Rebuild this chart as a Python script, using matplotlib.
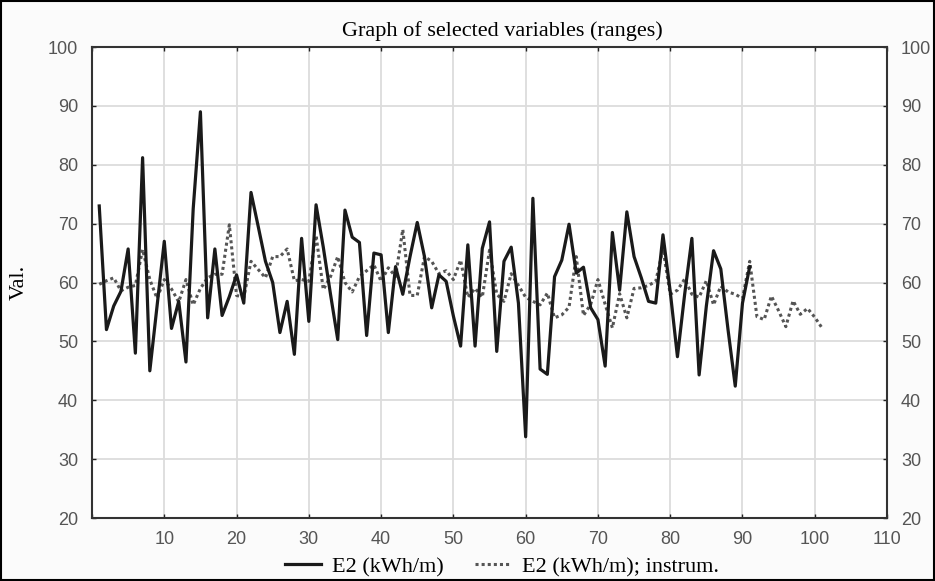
import matplotlib
matplotlib.use("Agg")
import matplotlib.pyplot as plt
from matplotlib.patches import Rectangle

# E2 measured (solid), x = 1..91
e2 = [73, 52, 56, 58.5, 65.7, 48, 81.2, 45, 56, 67,
      52.2, 56.8, 46.5, 72.5, 89, 54, 65.7, 54.4, 57.6, 61.3,
      56.5, 75.3, 69.5, 63.6, 60, 51.5, 56.8, 47.8, 67.5, 53.4,
      73.2, 66, 58, 50.3, 72.3, 67.7, 66.8, 51, 65, 64.7,
      51.5, 62.7, 58, 64.4, 70.2, 64.4, 55.7, 61.3, 60.2, 54.3,
      49.2, 66.4, 49.2, 65.8, 70.3, 48.3, 63.6, 66, 56.5, 33.8,
      74.3, 45.3, 44.4, 61, 63.8, 69.9, 61.6, 62.6, 55.7, 53.7,
      45.8, 68.5, 58.7, 72, 64.4, 60.8, 56.8, 56.5, 68.1, 58.5,
      47.4, 58, 67.5, 44.3, 56, 65.4, 62.3, 52, 42.4, 56.5,
      62.7]

# E2 instrumented (dotted), x = 1..101
e2_instr = [59.7, 60.3, 60.8, 58.6, 59.2, 59.5, 65.6, 60.5, 57.3, 60.5,
            58.9, 56.7, 60.5, 56.2, 59, 60.8, 61.4, 61.4, 69.8, 57.8,
            57.5, 63.6, 62.2, 60.8, 64.4, 64.4, 65.7, 60.3, 60.5, 60.2,
            68, 58.8, 61, 64.4, 60, 58.4, 61, 62, 63, 60.2,
            62.5, 61, 69, 57.8, 57.8, 64.4, 63.6, 61.5, 62, 60.5,
            63.8, 57.5, 59, 57.5, 65.5, 58, 56.8, 61.5, 59.5, 57.5,
            56.8, 56.2, 58.2, 54, 54.5, 55.8, 64.4, 54.4, 56.3, 60.5,
            56.3, 52.3, 58.1, 54, 59, 59.1, 59.5, 60.2, 65.7, 58,
            58.7, 60.6, 58, 57.5, 60.3, 56.2, 59.4, 58.4, 58, 57.3,
            63.6, 54.2, 53.7, 57.7, 55.2, 52.5, 56.9, 54.6, 55.6, 54.1,
            52.3]

x_e2 = list(range(1, len(e2) + 1))
x_instr = list(range(1, len(e2_instr) + 1))

x_ticks = list(range(0, 111, 10))
y_ticks = list(range(20, 101, 10))

serif = ["Liberation Serif", "DejaVu Serif"]
sans = ["Liberation Sans", "DejaVu Sans"]

fig = plt.figure(figsize=(9.35, 5.81), dpi=100)
fig.patch.set_facecolor("#fbfbfb")
ax = fig.add_axes([0.0984, 0.1084, 0.8503, 0.8107])
ax.set_facecolor("white")

ax.plot(x_instr, e2_instr, color="#555555", linestyle=(0, (1, 1.0)),
        linewidth=2.2, label="E2 (kWh/m); instrum.", zorder=3)
ax.plot(x_e2, e2, color="#1a1a1a", linewidth=2.3, label="E2 (kWh/m)", zorder=4)

ax.set_xlim(0, 110)
ax.set_ylim(20, 100)
ax.set_xticks(x_ticks)
ax.set_yticks(y_ticks)
ax.grid(True, color="#dcdcdc", linewidth=1.3)
ax.set_axisbelow(True)

ax.tick_params(axis="both", direction="in", length=3, width=1, colors="#222222",
               labelcolor="#555555", labelsize=13, top=True, right=True,
               labelright=True)
ax.tick_params(axis="y", pad=10)
ax.tick_params(axis="x", pad=9)
for lbl in ax.get_xticklabels() + ax.get_yticklabels():
    lbl.set_family(sans)
ax.xaxis.get_ticklabels()[0].set_visible(False)
for side in ax.spines.values():
    side.set_color("#333333")
    side.set_linewidth(1.5)

ax.set_ylabel("Val.", family=serif, fontsize=16, labelpad=14)
fig.suptitle("Graph of selected variables (ranges)", family=serif,
             fontsize=16, x=0.537, y=0.963)

handles, labels = ax.get_legend_handles_labels()
fig.legend(handles[::-1], labels[::-1], loc="lower center", ncol=2,
           bbox_to_anchor=(0.537, -0.028), frameon=False,
           prop={"family": serif, "size": 16}, handlelength=1.6,
           columnspacing=1.4, handletextpad=0.5)

fig.patches.append(Rectangle((0.001, 0.001), 0.998, 0.998, transform=fig.transFigure,
                             fill=False, edgecolor="black", linewidth=1.5))

fig.savefig("out.png", dpi=100, facecolor=fig.get_facecolor())
